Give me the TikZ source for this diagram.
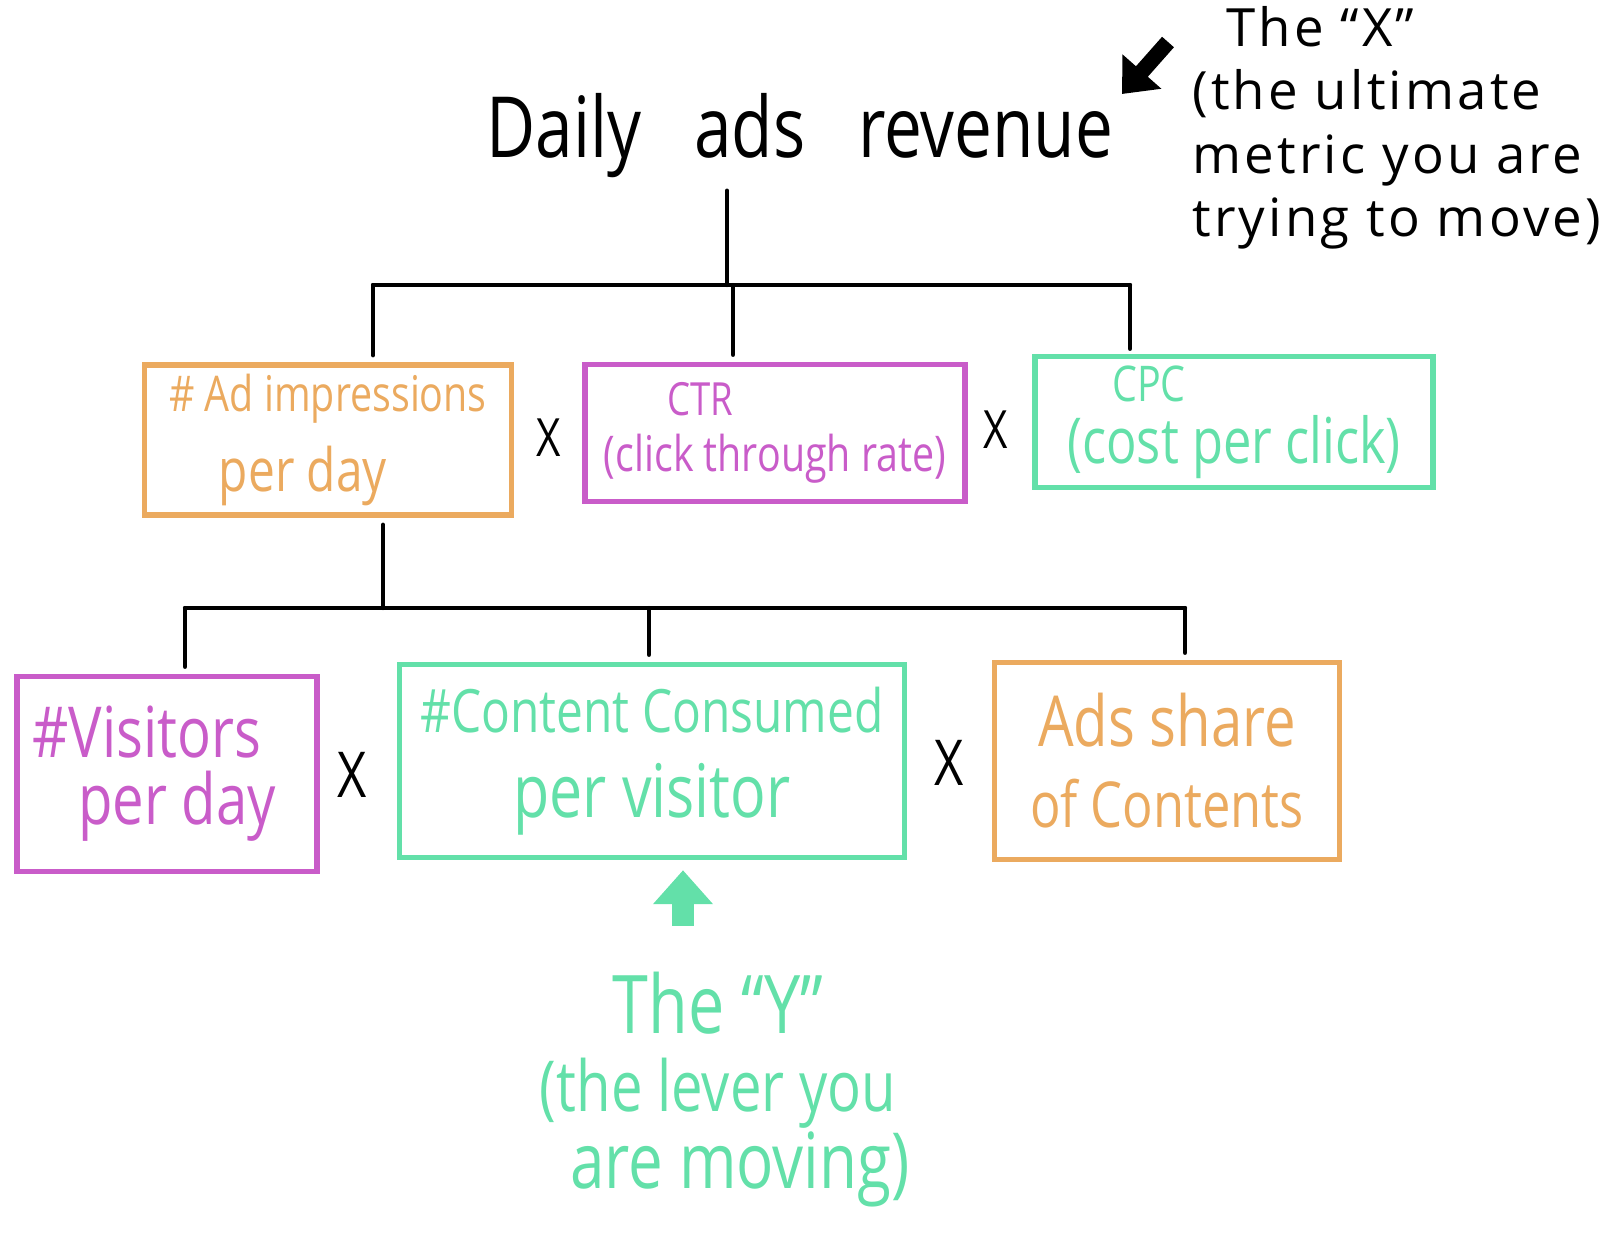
\documentclass[tikz,border=0pt]{standalone}
\usepackage{fontspec}
\setmainfont{Open Sans}
\newfontfamily\handw[LetterSpace=6]{Open Sans}
\newfontfamily\hand[FakeStretch=0.8]{Open Sans}
\usetikzlibrary{arrows.meta}
\definecolor{cor}{HTML}{EBAA5F}
\definecolor{cmg}{HTML}{C95CC9}
\definecolor{cgr}{HTML}{63E0A9}
\newcommand{\fs}[1]{\fontsize{#1}{#1}\selectfont}
\begin{document}
\begin{tikzpicture}[x=0.01cm,y=-0.01cm,
  tree/.style={line width=1.2pt, line cap=round},
  metric/.style={draw, line width=1.5pt, align=center, inner sep=0pt},
  times/.style={font=\hand\fs{15}},
  timesbig/.style={font=\hand\fs{18}}]
\useasboundingbox (0,0) rectangle (1600,1238);

% top metric
\node[font=\hand\fs{24}] (rev) at (800,136) {Daily\ \ \ ads\ \ \ revenue};

% annotation X
\node[font=\handw\fontsize{15}{18}\selectfont, align=left, anchor=north west] (noteX) at (1180,-6)
  {\ \ The “X”\\(the ultimate\\metric you are\\trying to move)};
\coordinate (axs) at (1168,42);
\coordinate (axe) at (1122,94);
\draw[line width=4.5pt, -{Triangle[length=0.3cm,width=0.5cm]}] (axs) -- (axe);

% level 1 boxes
\node[metric, draw=cor, text=cor, minimum width=3.67cm, minimum height=1.5cm,
  font=\hand\fontsize{14}{23}\selectfont] (b1) at (328,440) {\# Ad impressions\\{\fs{17}per day\hspace*{0.5cm}}};
\node[metric, draw=cmg, text=cmg, minimum width=3.8cm, minimum height=1.37cm,
  font=\hand\fontsize{14}{16}\selectfont] (b2) at (775,433) {{\fs{13}CTR}\hspace*{1.5cm}\\(click through rate)};
\node[metric, draw=cgr, text=cgr, minimum width=3.98cm, minimum height=1.31cm,
  font=\hand\fontsize{18}{17.5}\selectfont] (b3) at (1234,422) {{\fs{14}CPC}\hspace*{1.7cm}\\(cost per click)};

\node[times] (x1) at (549,438) {X};
\node[times] (x2) at (996,430) {X};

% level 2 boxes
\node[metric, draw=cmg, text=cmg, minimum width=3.0cm, minimum height=1.95cm,
  font=\hand\fontsize{20}{19}\selectfont] (b4) at (167,774) {\#Visitors\hspace*{0.4cm}\\\hspace*{0.2cm}per day};
\node[metric, draw=cgr, text=cgr, minimum width=5.05cm, minimum height=1.93cm,
  font=\hand\fontsize{21}{24}\selectfont] (b5) at (652,761) {{\fs{17}\#Content Consumed}\\per visitor};
\node[metric, draw=cor, text=cor, minimum width=3.45cm, minimum height=1.97cm,
  font=\hand\fontsize{18}{23}\selectfont] (b6) at (1167,761) {{\fs{20}Ads share}\\of Contents};

\node[timesbig] (x3) at (352,775) {X};
\node[timesbig] (x4) at (949,763) {X};

% tree 1
\coordinate (j1) at (727,285);
\coordinate (d1) at (373,285);
\coordinate (d2) at (733,285);
\coordinate (d3) at (1130,285);
\draw[tree] (rev.south -| j1) -- (j1);
\draw[tree] (d1) -- (d3);
\draw[tree, shorten >=0.07cm] (d1) -- (d1 |- b1.north);
\draw[tree, shorten >=0.07cm] (d2) -- (d2 |- b2.north);
\draw[tree, shorten >=0.05cm] (d3) -- (d3 |- b3.north);

% tree 2
\coordinate (j2) at (383,608);
\coordinate (e1) at (185,608);
\coordinate (e2) at (649,608);
\coordinate (e3) at (1185,608);
\draw[tree, shorten <=0.07cm] (j2 |- b1.south) -- (j2);
\draw[tree] (e1) -- (e3);
\draw[tree, shorten >=0.07cm] (e1) -- (e1 |- b4.north);
\draw[tree, shorten >=0.07cm] (e2) -- (e2 |- b5.north);
\draw[tree, shorten >=0.07cm] (e3) -- (e3 |- b6.north);

% lever Y
\coordinate (ys) at (683,926);
\draw[cgr, line width=6pt, shorten >=0.1cm, -{Triangle[length=0.34cm,width=0.58cm]}] (ys) -- (ys |- b5.south);
\node[font=\hand\fontsize{20}{22}\selectfont, text=cgr, align=center, anchor=north] (noteY) at (718,960)
  {{\fs{23}The “Y”}\\(the lever you\\\ \ \ {\fs{22}are moving)}};
\end{tikzpicture}
\end{document}
